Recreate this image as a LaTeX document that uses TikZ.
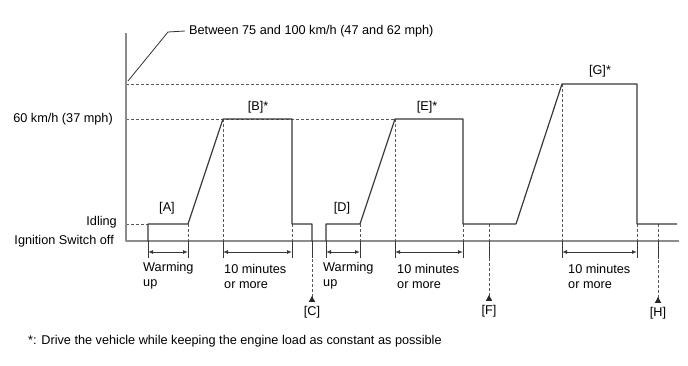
\documentclass[tikz,border=0pt]{standalone}
\usepackage{fontspec}
\setmainfont{Liberation Sans}
\usetikzlibrary{arrows.meta}

\begin{document}
\begin{tikzpicture}[x=1pt,y=-1pt,join=round,
        curve/.style={draw=black!78,line width=1.2pt},
        axisline/.style={draw=black!45,line width=1.3pt},
        guide/.style={draw=black!65,dash pattern=on 3pt off 2pt,line width=0.9pt},
        tick/.style={draw=black!78,line width=0.9pt},
        span/.style={draw=black!78,line width=0.9pt,{Latex[length=5pt,width=4pt]}-{Latex[length=5pt,width=4pt]}},
        pointer/.style={guide,{Triangle[reversed,length=6pt,width=6pt,color=black!85]}-},
        lbl/.style={font=\fontsize{12.7}{15}\selectfont,inner sep=0pt}]
        \useasboundingbox (0,0) rectangle (688,366);
        % axes
        \coordinate (top) at (126,33);
        \coordinate (o) at (126,241);
        \coordinate (end) at (679,241);
        % speed levels
        \draw[guide] (126,84) -- (562,84);
        \draw[guide] (126,119) -- (395,119);
        \draw[guide] (126,224) -- (148,224);
        \draw[axisline] (top) -- (o) -- (end);
        % dashed marks down to the axis
        \foreach \x/\t in {188/224,223/119,292/224,360/224,395/119,463/224,489/224,562/84,637/224,658/224}
                \draw[guide] (\x,\t) -- (\x,241);
        \foreach \x in {148,188,223,292,312,326,360,395,463,489,562,637,658}
                \draw[tick] (\x,241) -- (\x,258);
        \foreach \a/\b in {148/188,223/292,326/360,395/463,562/637}
                \draw[span] (\a,252) -- (\b,252);
        % speed curve
        \draw[curve] (148,241) -- (148,224) -- (188,224) -- (223,119) -- (292,119)
                -- (292,224) -- (312,224) -- (312,241);
        \draw[curve] (326,241) -- (326,224) -- (360,224) -- (395,119) -- (463,119)
                -- (463,224) -- (516,224) -- (562,84) -- (637,84) -- (637,224) -- (677,224);
        % level labels
        \node[lbl,anchor=east] (idle) at (117,222) {Idling};
        \node[lbl,anchor=east] (off) at (114,241) {Ignition Switch off};
        \node[lbl,anchor=east] (sixty) at (113,119) {60 km/h (37 mph)};
        \node[lbl,anchor=west] (high) at (189,31) {Between 75 and 100 km/h (47 and 62 mph)};
        \coordinate (bend) at (168,32);
        \draw[black!80,line width=0.8pt] (128,81) -- (bend) -- ([xshift=-4pt]high.west);
        % phase labels
        \node[lbl] (A) at (167,208) {[A]};
        \node[lbl] (B) at (258,107) {[B]*};
        \node[lbl] (D) at (342,208) {[D]};
        \node[lbl] (E) at (427,107) {[E]*};
        \node[lbl] (G) at (600,71) {[G]*};
        \node[lbl] (C) at (312,312) {[C]};
        \node[lbl] (F) at (489,311) {[F]};
        \node[lbl] (H) at (658,313) {[H]};
        \draw[pointer] ([yshift=4pt]C.north) -- (312,258);
        \draw[pointer] ([yshift=4pt]F.north) -- (489,258);
        \draw[pointer] ([yshift=4pt]H.north) -- (658,258);
        \node[lbl,anchor=north west,align=left] (wu1) at (143,262) {Warming\\up};
        \node[lbl,anchor=north west,align=left] (wu2) at (323,262) {Warming\\up};
        \node[lbl,anchor=north west,align=left] (tm1) at (224,264) {10 minutes\\or more};
        \node[lbl,anchor=north west,align=left] (tm2) at (397,264) {10 minutes\\or more};
        \node[lbl,anchor=north west,align=left] (tm3) at (568,264) {10 minutes\\or more};
        \node[lbl,anchor=west] (note) at (28,341) {*: Drive the vehicle while keeping the engine load as constant as possible};
\end{tikzpicture}
\end{document}
